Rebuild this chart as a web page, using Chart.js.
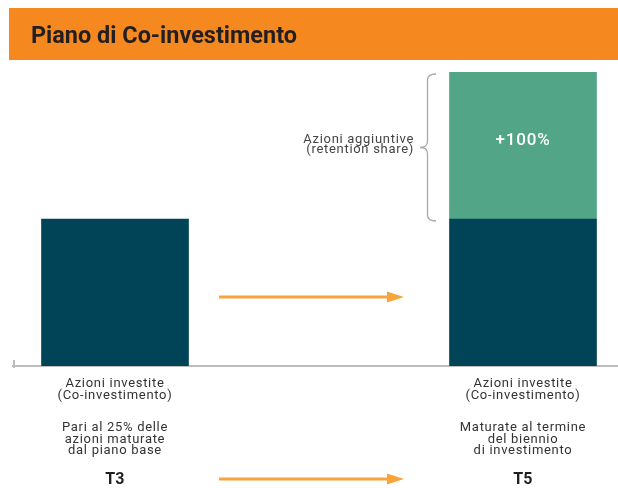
<!DOCTYPE html>
<html>
<head>
<meta charset="utf-8">
<script src="https://cdn.jsdelivr.net/npm/chart.js@4.4.0/dist/chart.umd.min.js"></script>
<style>
  html, body { margin: 0; padding: 0; background: #fff; overflow: hidden; }
  #wrap { width: 618px; height: 488px; overflow: hidden; position: relative; }
  #wrap canvas { position: absolute; left: 0; top: 0; }
</style>
</head>
<body>
<div id="wrap"><canvas id="chart" width="626" height="488"></canvas></div>
<script>
// data
const categories = ['T3', '', 'T5'];
const investedShares = [1, null, 1];
const retentionShares = [null, null, 1];
const retentionLabels = [null, null, '+100%'];
const captionTop = ['Azioni investite', '(Co-investimento)'];
const captionNotes = [
  ['Pari al 25% delle', 'azioni maturate', 'dal piano base'],
  [],
  ['Maturate al termine', 'del biennio', 'di investimento']
];
const braceText = ['Azioni aggiuntive', '(retention share)'];
const chartTitle = 'Piano di Co-investimento';

const DARK = '#014458';
const GREEN = '#53A587';
const ORANGE = '#F5891F';
const ARROW = '#F9A43A';
const FONT = "Roboto, 'Noto Sans', sans-serif";

function arrow(ctx, x1, x2, y) {
  ctx.save();
  ctx.strokeStyle = ARROW;
  ctx.fillStyle = ARROW;
  ctx.lineWidth = 3;
  ctx.beginPath();
  ctx.moveTo(x1, y);
  ctx.lineTo(x2 - 14, y);
  ctx.stroke();
  ctx.beginPath();
  ctx.moveTo(x2 - 17, y - 5.5);
  ctx.lineTo(x2, y);
  ctx.lineTo(x2 - 17, y + 5.5);
  ctx.closePath();
  ctx.fill();
  ctx.restore();
}

function brace(ctx, tipX, y1, y2) {
  const midX = tipX + 7.5, endX = tipX + 16, ym = (y1 + y2) / 2, r = 6;
  ctx.beginPath();
  ctx.moveTo(endX, y1);
  ctx.quadraticCurveTo(midX, y1, midX, y1 + r);
  ctx.lineTo(midX, ym - r);
  ctx.quadraticCurveTo(midX, ym, tipX, ym);
  ctx.quadraticCurveTo(midX, ym, midX, ym + r);
  ctx.lineTo(midX, y2 - r);
  ctx.quadraticCurveTo(midX, y2, endX, y2);
  ctx.stroke();
}

const decorations = {
  id: 'decorations',
  beforeDraw(chart) {
    const ctx = chart.ctx;
    ctx.save();
    ctx.fillStyle = ORANGE;
    ctx.fillRect(9, 8, chart.width, 52);
    // title squeezed a bit to get the condensed look of the original
    ctx.fillStyle = '#231F20';
    ctx.font = 'bold 24px ' + FONT;
    ctx.textBaseline = 'alphabetic';
    const w = ctx.measureText(chartTitle).width;
    ctx.translate(31, 43);
    ctx.scale(266 / w, 1);
    ctx.fillText(chartTitle, 0, 0);
    ctx.restore();
  },
  afterDraw(chart) {
    const ctx = chart.ctx;
    const x = chart.scales.x, y = chart.scales.y;
    const area = chart.chartArea;
    ctx.save();

    // small corner tick at the start of the axis
    ctx.strokeStyle = '#BDBDBD';
    ctx.lineWidth = 2;
    ctx.beginPath();
    ctx.moveTo(area.left + 1, area.bottom - 6);
    ctx.lineTo(area.left + 1, area.bottom + 2);
    ctx.stroke();

    // arrows between the two bars
    const mid = x.getPixelForValue(1);
    arrow(ctx, mid - 100, mid + 85, y.getPixelForValue(0.47));
    arrow(ctx, mid - 100, mid + 85, 479);

    // brace next to the retention share segment
    const right = x.getPixelForValue(2);
    ctx.strokeStyle = '#A8A8A8';
    ctx.lineWidth = 1.3;
    brace(ctx, right - 103, y.getPixelForValue(2) + 2, y.getPixelForValue(1) + 2);
    ctx.fillStyle = '#444';
    ctx.font = '13px ' + FONT;
    ctx.letterSpacing = '0.7px';
    ctx.textAlign = 'right';
    ctx.fillText(braceText[0], right - 109, 143);
    ctx.fillText(braceText[1], right - 109, 153);

    // value label inside the green segment
    ctx.textAlign = 'center';
    chart.getDatasetMeta(1).data.forEach((bar, i) => {
      if (!retentionLabels[i]) return;
      ctx.fillStyle = '#fff';
      ctx.font = '500 17px ' + FONT;
      ctx.letterSpacing = '0.8px';
      ctx.textBaseline = 'middle';
      ctx.fillText(retentionLabels[i], bar.x, (bar.y + bar.base) / 2 - 5);
    });

    // captions under the bars
    ctx.textBaseline = 'alphabetic';
    categories.forEach((cat, i) => {
      if (!cat) return;
      const cx = x.getPixelForValue(i);
      ctx.fillStyle = '#333';
      ctx.font = '13px ' + FONT;
      ctx.letterSpacing = '0.7px';
      captionTop.forEach((t, k) => ctx.fillText(t, cx, 387 + k * 11.7));
      captionNotes[i].forEach((t, k) => ctx.fillText(t, cx, 431 + k * 11.5));
      ctx.fillStyle = '#231F20';
      ctx.font = 'bold 16px ' + FONT;
      ctx.letterSpacing = '0.3px';
      ctx.fillText(cat, cx, 483.5);
    });
    ctx.restore();
  }
};

new Chart(document.getElementById('chart'), {
  type: 'bar',
  data: {
    labels: categories,
    datasets: [
      { label: 'Azioni investite', data: investedShares, backgroundColor: DARK, barThickness: 147 },
      { label: 'Azioni aggiuntive', data: retentionShares, backgroundColor: GREEN, barThickness: 147 }
    ]
  },
  options: {
    responsive: false,
    animation: false,
    layout: { padding: { top: 72, bottom: 122, left: 13, right: 1 } },
    plugins: { legend: { display: false }, tooltip: { enabled: false }, title: { display: false } },
    scales: {
      x: {
        stacked: true,
        grid: { display: false },
        ticks: { display: false },
        border: { display: true, color: '#BDBDBD', width: 2 },
        afterFit(scale) { scale.height = 0; }
      },
      y: {
        stacked: true,
        display: false,
        min: 0,
        max: 2
      }
    }
  },
  plugins: [decorations]
});
</script>
</body>
</html>
